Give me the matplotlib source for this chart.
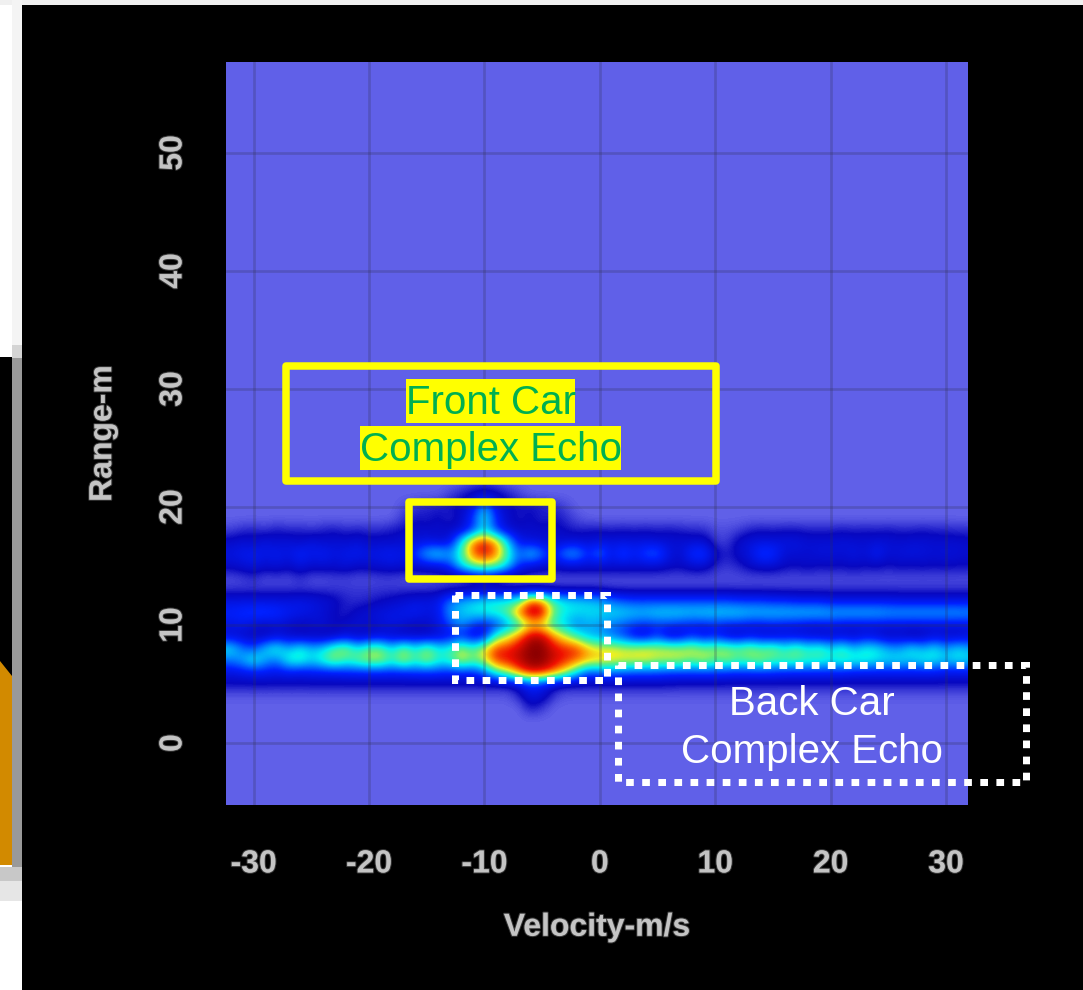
import numpy as np
import matplotlib
matplotlib.use("Agg")
import matplotlib.pyplot as plt
import matplotlib.patheffects as pe
from matplotlib.colors import LinearSegmentedColormap
from matplotlib.patches import Rectangle, Polygon

plt.rcParams['font.family'] = ['Liberation Sans', 'DejaVu Sans']
plt.rcParams['axes.unicode_minus'] = False

# velocity columns of the map, m/s
velocity = np.arange(-32, 33)

# echo strength per range row (0 = background, 100 = peak)
# each row: v -32..-20 | -19..-7 | -6..6 | 7..19 | 20..32
r_22 = [0,0,0,0,0,0,0,0,0,0,0,0,0,  0,0,0,0,0,0,0,0,2,4,2,0,0,  0,0,0,0,0,0,0,0,0,0,0,0,0,  0,0,0,0,0,0,0,0,0,0,0,0,0,  0,0,0,0,0,0,0,0,0,0,0,0,0]
r_21 = [0,0,0,0,0,0,0,0,0,0,0,0,0,  0,0,0,0,0,0,3,7,10,11,10,7,3,  0,0,0,0,0,0,0,0,0,0,0,0,0,  0,0,0,0,0,0,0,0,0,0,0,0,0,  0,0,0,0,0,0,0,0,0,0,0,0,0]
r_20 = [0,0,0,0,0,0,0,0,0,0,0,0,0,  0,0,2,4,6,6,8,9,14,36,14,9,8,  8,7,5,3,0,0,0,0,0,0,0,0,0,  0,0,0,0,0,0,0,0,0,0,0,0,0,  0,0,0,0,0,0,0,0,0,0,0,0,0]
r_19 = [0,0,0,0,0,0,0,0,0,0,0,0,0,  0,0,4,8,6,9,5,10,22,47,20,10,6,  9,5,8,5,2,0,0,0,0,0,0,0,0,  0,0,0,0,0,0,0,0,0,0,0,0,0,  0,0,0,0,0,0,0,0,0,0,0,0,0]
r_18 = [3,5,6,4,7,5,6,4,6,7,5,6,5,  5,7,8,10,10,10,10,12,22,42,22,12,10,  10,10,10,8,6,7,7,6,7,6,7,6,7,  6,5,5,2,2,3,6,7,6,7,7,6,6,  6,7,6,7,6,7,6,6,7,6,6,5,5]
r_17 = [10,12,10,14,11,13,10,14,11,12,11,13,10,  11,10,12,13,15,12,14,45,78,88,74,42,16,  14,12,11,12,13,12,14,14,14,14,14,13,12,  12,12,12,4,3,10,13,14,14,14,14,12,12,  12,13,12,11,13,12,11,12,12,11,11,11,10]
r_16 = [14,16,18,15,17,14,20,16,18,14,16,17,15,  16,18,14,24,38,44,34,50,80,90,78,50,28,  42,30,18,34,36,20,32,16,26,18,26,28,14,  11,22,24,10,6,10,14,24,22,12,12,11,13,  13,12,14,12,18,12,13,14,13,12,13,12,11]
r_15 = [10,12,14,11,13,10,14,11,12,11,13,10,11,  12,13,12,12,14,14,22,44,56,60,56,42,20,  14,12,10,12,12,12,12,12,12,12,12,12,10,  9,12,12,6,4,6,10,12,12,9,8,10,8,  9,8,10,8,9,7,9,8,9,8,9,8,8]
r_14 = [2,3,5,2,3,2,5,2,2,3,3,2,2,  3,3,2,2,2,3,3,4,8,12,8,4,3,  2,2,2,2,2,2,2,2,2,2,2,2,2,  2,2,2,2,2,2,2,2,2,2,2,2,2,  2,2,2,2,2,2,2,2,2,2,2,2,2]
r_13 = [4,4,4,4,4,4,4,4,4,4,4,4,4,  4,4,4,4,4,4,5,5,5,5,5,5,5,  5,5,5,5,5,5,5,4,4,4,4,4,4,  4,4,4,4,4,4,4,4,4,4,4,4,4,  4,4,4,4,4,4,4,4,4,4,4,4,4]
r_12 = [14,14,14,14,14,14,15,14,12,10,6,5,6,  8,10,12,14,14,16,30,36,40,44,46,46,50,  84,76,50,44,42,40,38,30,26,24,24,24,24,  24,24,24,24,24,22,22,22,20,20,18,18,18,  16,16,16,16,16,16,15,15,15,15,15,15,15]
r_11 = [20,22,24,24,22,18,16,14,12,8,6,10,12,  14,15,16,18,14,16,34,40,44,46,48,54,80,  96,94,55,44,42,42,42,42,42,40,40,42,42,  42,41,42,42,42,42,40,40,40,40,40,40,40,  38,38,38,38,38,36,36,36,36,36,36,36,35]
r_10 = [14,16,12,10,12,10,8,10,12,8,10,12,10,  12,14,12,8,10,14,24,34,22,16,22,34,44,  66,62,46,40,30,36,34,30,26,22,20,22,22,  20,18,18,20,18,18,16,16,18,16,16,14,14,  16,14,14,14,14,14,14,14,14,14,14,14,14]
r_9 = [12,10,8,8,12,10,8,8,6,8,12,8,10,  12,10,8,10,8,12,14,20,12,16,50,62,78,  95,95,76,62,50,38,36,30,24,14,12,22,10,  12,20,14,18,12,10,14,12,10,14,12,12,10,  10,12,10,14,12,8,10,6,8,12,10,10,12]
r_8 = [44,30,24,40,48,36,46,38,42,54,60,44,56,  56,42,58,44,58,44,48,62,50,66,84,86,92,  100,100,90,86,84,70,64,66,62,62,64,62,62,  60,64,56,60,58,54,60,52,58,46,56,46,52,  42,50,38,46,44,36,34,44,36,44,34,42,36]
r_7 = [30,36,48,36,30,48,50,42,50,60,50,56,62,  62,50,64,50,62,48,50,66,56,64,86,88,94,  100,100,92,86,80,72,70,68,66,66,66,62,62,  62,56,64,54,60,52,56,60,52,54,54,50,50,  46,50,48,48,44,42,44,40,46,44,40,44,42]
r_6 = [14,16,18,18,16,18,16,18,18,18,20,20,20,  20,20,20,22,22,22,20,22,20,30,50,62,80,  92,90,80,65,45,26,30,30,28,26,26,26,24,  24,24,24,24,22,22,22,22,22,20,20,20,20,  20,20,18,18,18,18,18,18,18,18,16,16,16]
r_5 = [8,8,8,8,8,8,8,8,8,8,8,8,8,  8,8,8,8,8,8,8,8,8,8,8,8,12,  22,18,10,8,8,8,8,8,8,8,8,8,8,  7,7,7,7,7,7,7,7,7,7,7,7,7,  7,7,7,7,7,7,7,7,7,7,7,7,7]
r_4 = [1,1,1,1,1,1,1,1,1,1,1,1,1,  1,1,1,1,1,1,1,1,1,1,1,1,6,  14,12,4,1,1,1,1,1,1,1,1,1,1,  1,1,1,1,1,1,1,1,1,1,1,1,1,  1,1,1,1,1,1,1,1,1,1,1,1,1]
r_3 = [0,0,0,0,0,0,0,0,0,0,0,0,0,  0,0,0,0,0,0,0,0,0,0,0,0,0,  8,4,0,0,0,0,0,0,0,0,0,0,0,  0,0,0,0,0,0,0,0,0,0,0,0,0,  0,0,0,0,0,0,0,0,0,0,0,0,0]
r_2 = [0] * 65

x_ticks = [-30, -20, -10, 0, 10, 20, 30]
y_ticks = [0, 10, 20, 30, 40, 50]

echo = np.array([r_22, r_21, r_20, r_19, r_18, r_17, r_16, r_15, r_14, r_13, r_12,
                 r_11, r_10, r_9, r_8, r_7, r_6, r_5, r_4, r_3, r_2], dtype=float)

BG = '#6060e8'
cmap = LinearSegmentedColormap.from_list('echo', [
    (0.00, BG), (0.08, '#0808c0'), (0.20, '#0020ff'), (0.33, '#0090ff'), (0.44, '#00f0f0'),
    (0.55, '#60f080'), (0.65, '#f0f020'), (0.75, '#ff9000'), (0.87, '#f01000'), (1.00, '#8a0000')])

W, H = 1083, 990
fig = plt.figure(figsize=(W / 100, H / 100), dpi=100, facecolor='white')

# page behind the chart, in pixels
page = fig.add_axes([0, 0, 1, 1], zorder=0)
page.set_xlim(0, W)
page.set_ylim(H, 0)
page.axis('off')
page.add_patch(Rectangle((0, 0), W, 5, fc='#f0f0f0', ec='none'))
page.add_patch(Rectangle((12, 0), 10, 345, fc='#f4f4f4', ec='none'))
page.add_patch(Rectangle((12, 345), 10, 13, fc='#d4d4d4', ec='none'))
page.add_patch(Rectangle((12, 358), 10, 509, fc='#999999', ec='none'))
page.add_patch(Rectangle((0, 867), 22, 14, fc='#c8c8c8', ec='none'))
page.add_patch(Rectangle((0, 881), 22, 20, fc='#e6e6e6', ec='none'))
page.add_patch(Rectangle((0, 357), 12, 508, fc='black', ec='none'))
page.add_patch(Polygon([(0, 661), (12, 676), (12, 865), (0, 865)], fc='#d28a00', ec='none'))
page.add_patch(Rectangle((22, 5), W - 22, H - 5, fc='black', ec='none'))

ax = fig.add_axes([226 / W, 1 - 805 / H, (968 - 226) / W, (805 - 62) / H], zorder=1)
ax.set_facecolor(BG)
ax.imshow(echo, cmap=cmap, vmin=0, vmax=100, interpolation='bicubic', aspect='auto',
          extent=[velocity[0] - 0.5, velocity[-1] + 0.5, 1.5, 22.5], zorder=1)
ax.set_xlim(-32.4, 31.9)
ax.set_ylim(-5.25, 57.7)
ax.set_xticks(x_ticks)
ax.set_yticks(y_ticks)
ax.grid(True, color='#303050', alpha=0.25, lw=2, zorder=2)
ax.set_axisbelow(False)
ax.tick_params(length=0, labelsize=23)
ax.tick_params(axis='x', pad=32)
ax.tick_params(axis='y', labelrotation=90, pad=27)
soft = [pe.withStroke(linewidth=1.5, foreground='#707070', alpha=0.5)]
for lab in ax.get_yticklabels():
    lab.set_va('center')
for lab in ax.get_xticklabels() + ax.get_yticklabels():
    lab.set_fontweight('bold')
    lab.set_color('#c4c4c4')
    lab.set_path_effects(soft)
for s in ax.spines.values():
    s.set_visible(False)
ax.set_xlabel('Velocity-m/s', color='#c4c4c4', fontsize=23, fontweight='bold', labelpad=24,
              path_effects=soft)
ax.set_ylabel('Range-m', color='#c4c4c4', fontsize=23, fontweight='bold', labelpad=29,
              path_effects=soft)

# call-outs on top of the chart, in pixels
top = fig.add_axes([0, 0, 1, 1], zorder=2)
top.set_xlim(0, W)
top.set_ylim(H, 0)
top.axis('off')
top.patch.set_alpha(0)

px = 0.72
top.add_patch(Rectangle((286, 366), 430, 115, fc='none', ec='#ffff00', lw=7.5 * px, joinstyle='round'))
top.add_patch(Rectangle((409, 502), 143, 77, fc='none', ec='#ffff00', lw=7.5 * px, joinstyle='round'))
dots = (0, (1.1, 1.2))
top.add_patch(Rectangle((455, 595), 152, 85, fc='none', ec='white', lw=7 * px, ls=dots))
top.add_patch(Rectangle((618, 665), 408, 117, fc='none', ec='white', lw=7 * px, ls=dots))

top.add_patch(Rectangle((406, 379), 169, 44, fc='#ffff00', ec='none'))
top.add_patch(Rectangle((360, 426), 261, 44, fc='#ffff00', ec='none'))
top.text(490.5, 403, 'Front Car', color='#00b050', fontsize=29, ha='center', va='center')
top.text(490.5, 450, 'Complex Echo', color='#00b050', fontsize=29, ha='center', va='center')
top.text(812, 704, 'Back Car', color='white', fontsize=29, ha='center', va='center')
top.text(812, 752, 'Complex Echo', color='white', fontsize=29, ha='center', va='center')

fig.savefig('out.png', dpi=100, facecolor=fig.get_facecolor())
